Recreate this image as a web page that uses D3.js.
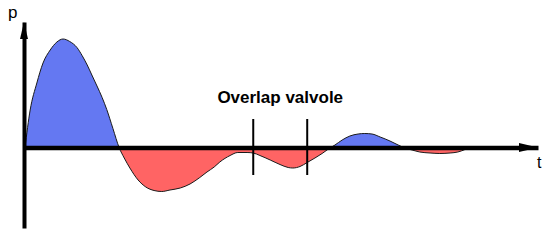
<!DOCTYPE html>
<html>
<head>
<meta charset="utf-8">
<script src="https://cdn.jsdelivr.net/npm/d3@7"></script>
<style>
  body { margin: 0; background: #fff; }
  text { font-family: "Liberation Sans", Arial, sans-serif; fill: #000; }
</style>
</head>
<body>
<div id="chart"></div>
<script>
// time axis (arbitrary units) and pressure samples
const times = [0.2, 1.2, 2.5, 3.7, 5.1, 6.4, 7.6, 8.9, 10.3, 11.3, 12.3, 13.2, 14.2, 15.2, 16.1, 17.3, 18.5,
  19.5, 20.6, 22.2, 23.7, 25.3, 26.8, 28.4, 30.4, 32.3, 34.2, 35.6, 37.0, 38.1, 40.1, 41.6, 43.4, 44.6,
  45.9, 47.9, 49.8, 51.4, 52.3, 53.7, 55.1, 56.6, 58.0, 59.5, 60.5, 61.9, 63.4, 65.0, 66.3, 67.7, 69.3,
  71.2, 72.8, 74.1, 75.5, 77.0, 79.0, 80.9, 82.9, 84.4, 85.8];
const pressure = [0, 37.5, 64.5, 84.5, 97.5, 105.5, 108.5, 106, 100, 92, 82.5, 72.5, 61.5, 50, 38, 19, 0,
  -10.5, -20.5, -32.5, -39.5, -43, -44, -42.5, -40.5, -36.5, -30, -24.5, -19.5, -14.5, -8, -5, -5, -5.5,
  -8, -12.5, -17, -20, -20.5, -19, -15, -10.5, -6, -0.5, 2.5, 7.5, 11.5, 13.5, 14, 13.5, 10.5,
  6.5, 2.5, -0.5, -2.5, -4.5, -5.5, -6, -5.5, -4.5, -2];
const overlapTimes = [44.6, 55.1];
const overlapLabel = "Overlap valvole";
const axisLabels = { y: "p", x: "t" };

const width = 559, height = 249;
const x = d3.scaleLinear().domain([0, 100]).range([24, 538]);
const y = d3.scaleLinear().domain([-80.5, 125.5]).range([228, 22]);

const data = times.map((t, i) => ({ t: t, p: pressure[i] }));

const svg = d3.select("#chart").append("svg")
  .attr("width", width)
  .attr("height", height);

const defs = svg.append("defs");
defs.append("clipPath").attr("id", "above")
  .append("rect").attr("x", 0).attr("y", 0).attr("width", width).attr("height", y(0));
defs.append("clipPath").attr("id", "below")
  .append("rect").attr("x", 0).attr("y", y(0)).attr("width", width).attr("height", height - y(0));

const area = d3.area()
  .x(d => x(d.t))
  .y0(y(0))
  .y1(d => y(d.p))
  .curve(d3.curveMonotoneX);

const line = d3.line()
  .x(d => x(d.t))
  .y(d => y(d.p))
  .curve(d3.curveMonotoneX);

svg.append("path").datum(data)
  .attr("clip-path", "url(#above)")
  .attr("fill", "#6478f2")
  .attr("d", area);

svg.append("path").datum(data)
  .attr("clip-path", "url(#below)")
  .attr("fill", "#ff6464")
  .attr("d", area);

svg.append("path").datum(data)
  .attr("fill", "none")
  .attr("stroke", "#1a1a1a")
  .attr("stroke-width", 1)
  .attr("d", line);

// overlap markers
svg.selectAll(".overlap")
  .data(overlapTimes)
  .enter().append("line")
  .attr("class", "overlap")
  .attr("x1", d => x(d)).attr("x2", d => x(d))
  .attr("y1", y(28.5)).attr("y2", y(-27.5))
  .attr("stroke", "#000")
  .attr("stroke-width", 2);

svg.append("text")
  .attr("x", x(d3.mean(overlapTimes)))
  .attr("y", 103)
  .attr("text-anchor", "middle")
  .style("font-size", "17px")
  .style("font-weight", "bold")
  .text(overlapLabel);

// axes without ticks, thick domain line
const xAxis = svg.append("g")
  .attr("transform", "translate(0," + y(0) + ")")
  .call(d3.axisBottom(x).ticks(0).tickSize(0).tickSizeOuter(0));
const yAxis = svg.append("g")
  .attr("transform", "translate(" + x(0) + ",0)")
  .call(d3.axisLeft(y).ticks(0).tickSize(0).tickSizeOuter(0));
svg.selectAll(".domain")
  .attr("stroke", "#000")
  .attr("stroke-width", 4.5);
yAxis.select(".domain").attr("stroke-width", 4);

// arrow heads
const tipX = x.range()[1], tipY = y.range()[1];
svg.append("path")
  .attr("d", `M${tipX},${y(0)} L${tipX - 19},${y(0) - 4.5} L${tipX - 19},${y(0) + 4.5} Z`)
  .attr("fill", "#000");
svg.append("path")
  .attr("d", `M${x(0)},${tipY} L${x(0) - 4},${tipY + 17} L${x(0) + 4},${tipY + 17} Z`)
  .attr("fill", "#000");

svg.append("text")
  .attr("x", 8).attr("y", 18)
  .style("font-size", "17px")
  .text(axisLabels.y);
svg.append("text")
  .attr("x", 537).attr("y", 168)
  .style("font-size", "16px")
  .text(axisLabels.x);
</script>
</body>
</html>
